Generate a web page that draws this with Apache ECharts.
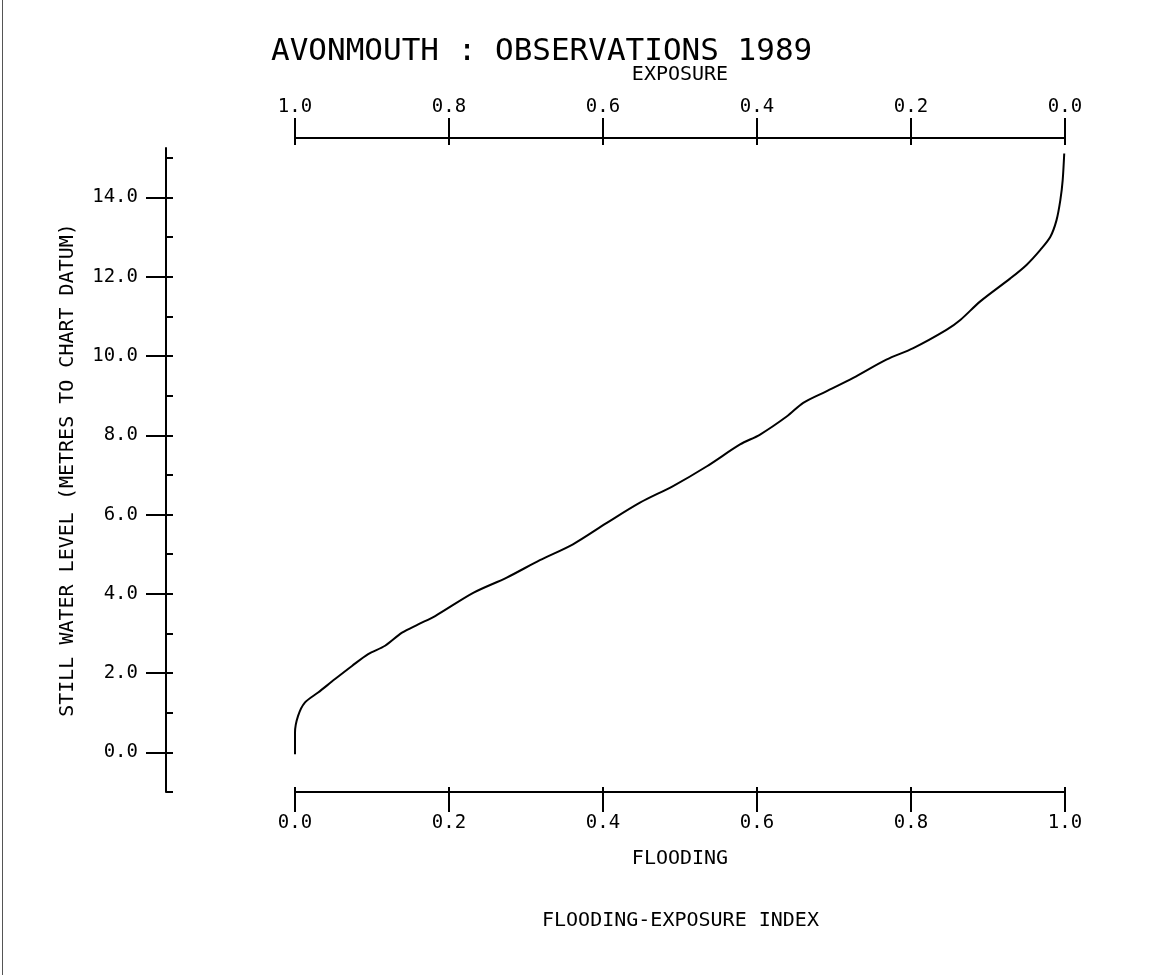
<!DOCTYPE html>
<html>
<head>
<meta charset="utf-8">
<title>Avonmouth observations 1989</title>
<script src="https://cdn.jsdelivr.net/npm/echarts@6/dist/echarts.min.js"></script>
<style>
  html, body { margin: 0; padding: 0; background: #fff; }
  #chart { position: absolute; left: 0; top: 0; width: 1154px; height: 975px; }
  #edge { position: absolute; left: 2px; top: 0; width: 1px; height: 975px; background: #555; }
</style>
</head>
<body>
<div id="chart"></div>
<div id="edge"></div>
<script>
// flooding index (bottom axis) and still water level (m to chart datum)
var flooding = [0.000, 0.000, 0.004, 0.013, 0.030, 0.052, 0.074, 0.095, 0.117, 0.139,
  0.160, 0.182, 0.232, 0.275, 0.318, 0.361, 0.405, 0.448, 0.491,
  0.535, 0.578, 0.604, 0.639, 0.660, 0.690, 0.725, 0.768, 0.803, 0.846,
  0.864, 0.890, 0.929, 0.950, 0.968, 0.981, 0.989, 0.994, 0.997, 0.999];
var level = [-0.05, 0.50, 0.92, 1.26, 1.51, 1.85, 2.18, 2.48, 2.69, 3.02,
  3.23, 3.44, 4.03, 4.41, 4.85, 5.25, 5.79, 6.30, 6.72,
  7.22, 7.77, 8.02, 8.48, 8.82, 9.11, 9.45, 9.91, 10.20, 10.66,
  10.91, 11.38, 11.96, 12.30, 12.68, 13.01, 13.43, 13.94, 14.44, 15.11];

var yLabelTicks = [0, 2, 4, 6, 8, 10, 12, 14];
var yAllTicks = [-1, 0, 1, 2, 3, 4, 5, 6, 7, 8, 9, 10, 11, 12, 13, 14, 15];

var font = "DejaVu Sans Mono";
var ink = "#000";

var points = flooding.map(function (f, i) { return [f, level[i]]; });

function fmt(v) { return Number(v).toFixed(1); }

var chart = echarts.init(document.getElementById("chart"));
chart.setOption({
  animation: false,
  backgroundColor: "#fff",
  title: [
    {
      text: "AVONMOUTH : OBSERVATIONS 1989",
      left: 266, top: 31,
      textStyle: { fontFamily: font, fontSize: 31, fontWeight: "normal", color: ink }
    },
    {
      text: "FLOODING-EXPOSURE INDEX",
      left: 537, top: 906,
      textStyle: { fontFamily: font, fontSize: 20, fontWeight: "normal", color: ink }
    }
  ],
  grid: { left: 295, right: 89, top: 148, bottom: 183 },
  xAxis: [
    {
      // bottom: flooding, labels + outward ticks
      type: "value", position: "bottom", min: 0, max: 1, interval: 0.2,
      axisLine: { onZero: false, lineStyle: { color: ink, width: 2 } },
      axisTick: { length: 20, lineStyle: { color: ink, width: 2 } },
      axisLabel: { formatter: fmt, margin: 22, fontFamily: font, fontSize: 19, color: ink },
      splitLine: { show: false },
      name: "FLOODING", nameLocation: "middle", nameGap: 57,
      nameTextStyle: { fontFamily: font, fontSize: 20, color: ink }
    },
    {
      // bottom: short inner ticks
      type: "value", position: "bottom", min: 0, max: 1, interval: 0.2,
      axisLine: { show: false, onZero: false },
      axisTick: { inside: true, length: 5, lineStyle: { color: ink, width: 2 } },
      axisLabel: { show: false },
      splitLine: { show: false }
    },
    {
      // top: exposure, reversed
      type: "value", position: "top", offset: 10, inverse: true,
      min: 0, max: 1, interval: 0.2,
      axisLine: { onZero: false, lineStyle: { color: ink, width: 2 } },
      axisTick: { length: 20, lineStyle: { color: ink, width: 2 } },
      axisLabel: { formatter: fmt, margin: 21, fontFamily: font, fontSize: 19, color: ink },
      splitLine: { show: false },
      name: "EXPOSURE", nameLocation: "middle", nameGap: 53,
      nameTextStyle: { fontFamily: font, fontSize: 20, color: ink }
    },
    {
      type: "value", position: "top", offset: 10, inverse: true,
      min: 0, max: 1, interval: 0.2,
      axisLine: { show: false, onZero: false },
      axisTick: { inside: true, length: 7, lineStyle: { color: ink, width: 2 } },
      axisLabel: { show: false },
      splitLine: { show: false }
    }
  ],
  yAxis: [
    {
      // axis line + short inner ticks every metre
      type: "value", position: "left", offset: 129, min: -1, max: 15.25,
      axisLine: { show: true, onZero: false, lineStyle: { color: ink, width: 2 } },
      axisTick: { show: true, inside: true, length: 7, customValues: yAllTicks,
        lineStyle: { color: ink, width: 2 } },
      axisLabel: { show: false },
      splitLine: { show: false }
    },
    {
      // outward ticks + labels every 2 m
      type: "value", position: "left", offset: 129, min: -1, max: 15.25,
      axisLine: { show: false, onZero: false },
      axisTick: { show: true, length: 20, customValues: yLabelTicks,
        lineStyle: { color: ink, width: 2 } },
      axisLabel: { customValues: yLabelTicks, formatter: fmt, margin: 28,
        fontFamily: font, fontSize: 19, color: ink },
      splitLine: { show: false },
      name: "STILL WATER LEVEL (METRES TO CHART DATUM)",
      nameLocation: "middle", nameGap: 88,
      nameTextStyle: { fontFamily: font, fontSize: 20, color: ink }
    }
  ],
  series: [
    {
      type: "line",
      xAxisIndex: 0, yAxisIndex: 0,
      data: points,
      showSymbol: false, symbol: "none",
      smooth: 0.3,
      lineStyle: { color: ink, width: 2 }
    }
  ]
});
</script>
</body>
</html>
